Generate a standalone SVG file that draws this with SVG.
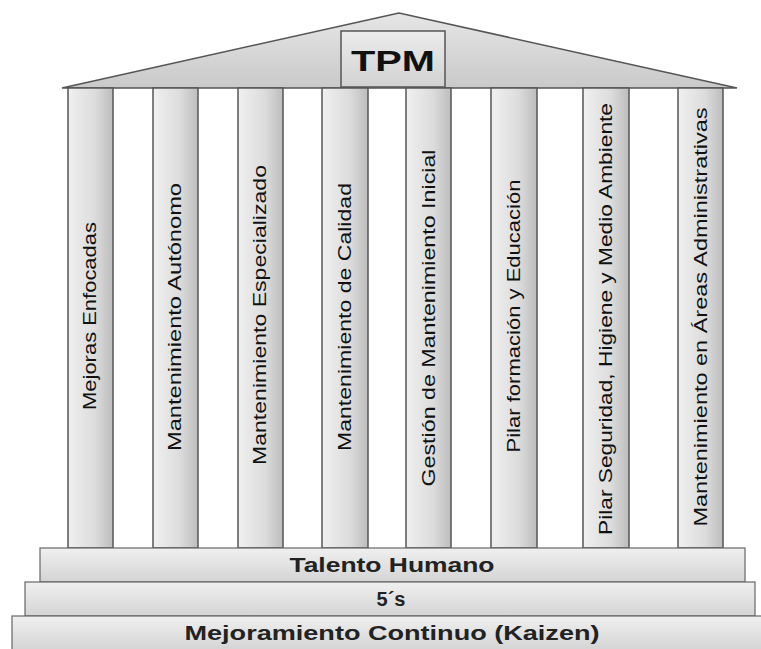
<svg xmlns="http://www.w3.org/2000/svg" width="761" height="649" viewBox="0 0 761 649">
<defs>
<linearGradient id="gPillar" x1="0" y1="0" x2="1" y2="0">
<stop offset="0" stop-color="#f0f0f0"/><stop offset="0.6" stop-color="#dcdcdc"/><stop offset="1" stop-color="#bdbdbd"/>
</linearGradient>
<linearGradient id="gRoof" x1="0" y1="0" x2="0" y2="1">
<stop offset="0" stop-color="#e6e6e6"/><stop offset="1" stop-color="#c9c9c9"/>
</linearGradient>
<linearGradient id="gBox" x1="0" y1="0" x2="0" y2="1">
<stop offset="0" stop-color="#ececec"/><stop offset="1" stop-color="#d2d2d2"/>
</linearGradient>
<linearGradient id="gStep" x1="0" y1="0" x2="0" y2="1">
<stop offset="0" stop-color="#f0f0f0"/><stop offset="1" stop-color="#d4d4d4"/>
</linearGradient>
</defs>
<style>
.pillar{fill:url(#gPillar);stroke:#555;stroke-width:1.5}
.step{fill:url(#gStep);stroke:#666;stroke-width:1.2}
.pt{font-family:"Liberation Sans",Arial,sans-serif;font-size:18px;fill:#111;text-anchor:middle}
.st{font-family:"Liberation Sans",Arial,sans-serif;font-size:20px;font-weight:bold;fill:#222;text-anchor:middle}
</style>
<rect width="761" height="649" fill="#fff"/>
<g id="roof">
<polygon points="399,13 62,88 737,88" fill="url(#gRoof)" stroke="#555" stroke-width="1.5"/>
</g>
<g id="tpm">
<rect x="341" y="31" width="104" height="56" fill="url(#gBox)" stroke="#555" stroke-width="1.5"/>
<text x="393" y="71" font-family="Liberation Sans,Arial,sans-serif" font-size="30" font-weight="bold" text-anchor="middle" fill="#111" textLength="84" lengthAdjust="spacingAndGlyphs">TPM</text>
</g>
<g id="p1"><rect class="pillar" x="68" y="88" width="45" height="460"/>
<text class="pt" transform="translate(96,316) rotate(-90)" textLength="188" lengthAdjust="spacingAndGlyphs">Mejoras  Enfocadas</text></g>
<g id="p2"><rect class="pillar" x="153" y="88" width="45" height="460"/>
<text class="pt" transform="translate(181,317) rotate(-90)" textLength="268" lengthAdjust="spacingAndGlyphs">Mantenimiento  Autónomo</text></g>
<g id="p3"><rect class="pillar" x="238" y="88" width="45" height="460"/>
<text class="pt" transform="translate(266,315) rotate(-90)" textLength="300" lengthAdjust="spacingAndGlyphs">Mantenimiento  Especializado</text></g>
<g id="p4"><rect class="pillar" x="322" y="88" width="46" height="460"/>
<text class="pt" transform="translate(351,317) rotate(-90)" textLength="268" lengthAdjust="spacingAndGlyphs">Mantenimiento de Calidad</text></g>
<g id="p5"><rect class="pillar" x="406" y="88" width="45" height="460"/>
<text class="pt" transform="translate(435,318) rotate(-90)" textLength="337" lengthAdjust="spacingAndGlyphs">Gestión de Mantenimiento  Inicial</text></g>
<g id="p6"><rect class="pillar" x="491" y="88" width="46" height="460"/>
<text class="pt" transform="translate(520,316) rotate(-90)" textLength="273" lengthAdjust="spacingAndGlyphs">Pilar formación y Educación</text></g>
<g id="p7"><rect class="pillar" x="583" y="88" width="46" height="460"/>
<text class="pt" transform="translate(612,319) rotate(-90)" textLength="432" lengthAdjust="spacingAndGlyphs">Pilar Seguridad, Higiene y Medio Ambiente</text></g>
<g id="p8"><rect class="pillar" x="678" y="88" width="45" height="460"/>
<text class="pt" transform="translate(707,317) rotate(-90)" textLength="419" lengthAdjust="spacingAndGlyphs">Mantenimiento en Áreas Administrativas</text></g>
<g id="s1"><rect class="step" x="40" y="548" width="705" height="34"/>
<text class="st" x="392" y="572" textLength="205" lengthAdjust="spacingAndGlyphs">Talento Humano</text></g>
<g id="s2"><rect class="step" x="25" y="582" width="730" height="34"/>
<text class="st" x="391" y="606">5´s</text></g>
<g id="s3"><rect class="step" x="12" y="616" width="750" height="34"/>
<text class="st" x="392" y="640" textLength="415" lengthAdjust="spacingAndGlyphs">Mejoramiento Continuo (Kaizen)</text></g>
<g id="connectors"/>
</svg>
